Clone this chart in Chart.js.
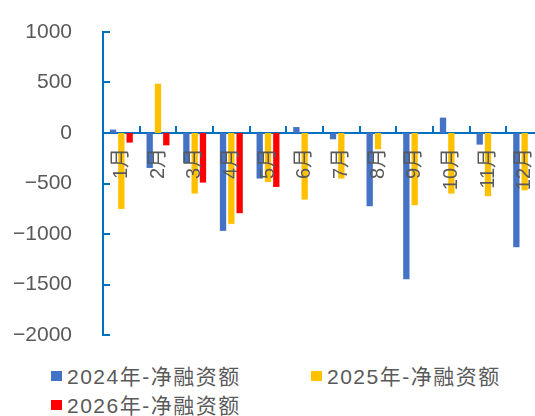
<!DOCTYPE html>
<html lang="zh">
<head>
    <meta charset="UTF-8">
    <title>净融资额</title>
    <script src="https://cdn.jsdelivr.net/npm/chart.js"></script>
    <style>
        body { margin: 0; width: 535px; height: 416px; overflow: hidden; background: #fff; position: relative; }
        #wrap { position: absolute; left: 0; top: 0; width: 545px; height: 345px; }
        .legend { position: absolute; font-family: "Liberation Sans", "Noto Sans CJK SC", sans-serif; font-size: 21px; color: #595959; line-height: 22px; letter-spacing: 1.5px; white-space: nowrap; }
        .legend i { position: absolute; width: 11px; height: 10px; }
        .legend span { position: absolute; }
    </style>
</head>
<body>
    <div id="wrap"><canvas id="chart"></canvas></div>
    <div class="legend" id="legend"></div>
    <script>
        const months = ['1月', '2月', '3月', '4月', '5月', '6月', '7月', '8月', '9月', '10月', '11月', '12月'];
        const net2024 = [34, -346, -297, -969, -451, 59, -62, -725, -1447, 152, -115, -1131];
        const net2025 = [-752, 488, -600, -900, -485, -659, -451, -161, -715, -600, -626, -567];
        const net2026 = [-95, -122, -491, -794, -534, null, null, null, null, null, null, null];
        const seriesNames = ['2024年-净融资额', '2025年-净融资额', '2026年-净融资额'];
        const colors = ['#4472C4', '#FFC000', '#FF0000'];

        const axisBlue = '#0070C0';
        const textGray = '#595959';
        const fontFamily = '"Liberation Sans", "Noto Sans CJK SC", sans-serif';

        // small inward tick marks like the excel original
        const innerTicks = {
            id: 'innerTicks',
            afterDatasetsDraw(chart) {
                const { ctx, scales: { x, y } } = chart;
                ctx.save();
                ctx.strokeStyle = axisBlue;
                ctx.lineWidth = 2;
                ctx.beginPath();
                y.ticks.forEach(t => {
                    const py = Math.round(y.getPixelForValue(t.value));
                    ctx.moveTo(x.left, py);
                    ctx.lineTo(x.left + 7, py);
                });
                const y0 = y.getPixelForValue(0);
                for (let i = 1; i <= months.length; i++) {
                    const px = Math.round((x.getPixelForValue(i - 1) + x.getPixelForValue(i)) / 2);
                    ctx.moveTo(px, y0);
                    ctx.lineTo(px, y0 - 7);
                }
                ctx.stroke();
                ctx.restore();
            }
        };

        const ctx = document.getElementById('chart').getContext('2d');
        new Chart(ctx, {
            type: 'bar',
            data: {
                labels: months,
                datasets: [net2024, net2025, net2026].map((d, i) => ({
                    label: seriesNames[i],
                    data: d,
                    backgroundColor: colors[i],
                    categoryPercentage: 0.68,
                    barPercentage: 0.76
                }))
            },
            options: {
                responsive: true,
                maintainAspectRatio: false,
                animation: false,
                devicePixelRatio: 1,
                layout: { padding: { top: 32, bottom: 10, left: 0, right: 2 } },
                plugins: { legend: { display: false }, tooltip: { enabled: false } },
                scales: {
                    x: {
                        position: { y: 0 },
                        grid: { display: false },
                        border: { display: true, color: axisBlue, width: 2 },
                        ticks: {
                            z: 1,
                            autoSkip: false,
                            minRotation: 90,
                            maxRotation: 90,
                            padding: 7,
                            color: textGray,
                            font: { family: fontFamily, size: 20 }
                        },
                        afterFit(scale) {
                            scale.height = 0;
                            scale.paddingLeft = 0;
                            scale.paddingRight = 0;
                        }
                    },
                    y: {
                        min: -2000,
                        max: 1000,
                        grid: { display: false, drawTicks: false },
                        border: { display: true, color: axisBlue, width: 2 },
                        ticks: {
                            stepSize: 500,
                            padding: 31,
                            color: textGray,
                            font: { family: fontFamily, size: 21 },
                            callback: v => (v < 0 ? '\u2212' + Math.abs(v) : String(v))
                        },
                        afterFit(scale) {
                            scale.width = 103;
                            scale.paddingTop = 0;
                            scale.paddingBottom = 0;
                        }
                    }
                }
            },
            plugins: [innerTicks]
        });

        // legend laid out as in the original (two columns)
        const legendPos = [[51, 366], [311, 366], [51, 395]];
        const legend = document.getElementById('legend');
        seriesNames.forEach((name, i) => {
            const [lx, ly] = legendPos[i];
            const box = document.createElement('i');
            box.style.left = lx + 'px';
            box.style.top = (ly + 5) + 'px';
            box.style.background = colors[i];
            const txt = document.createElement('span');
            txt.style.left = (lx + 16) + 'px';
            txt.style.top = ly + 'px';
            txt.textContent = name;
            legend.appendChild(box);
            legend.appendChild(txt);
        });
    </script>
</body>
</html>
